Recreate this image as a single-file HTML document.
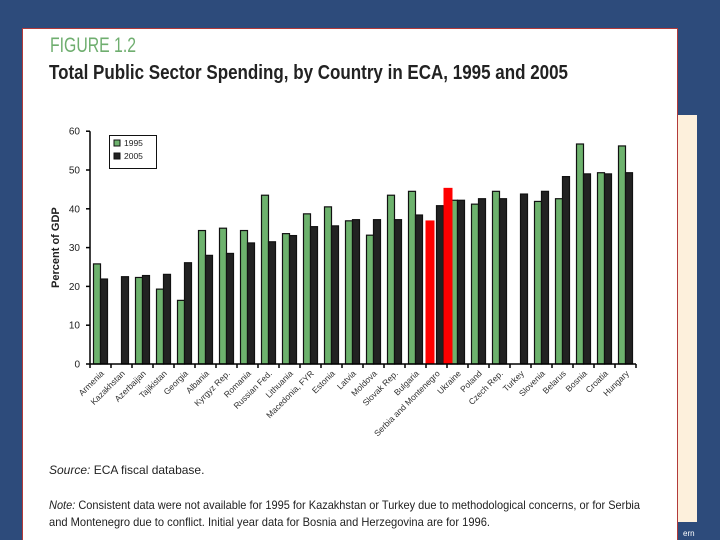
<!DOCTYPE html>
<html><head><meta charset="utf-8"><style>
html,body{margin:0;padding:0;background:#2d4b7b;}
svg{display:block;font-family:"Liberation Sans Narrow","Liberation Sans",sans-serif;}
</style></head><body>
<svg width="720" height="540" viewBox="0 0 720 540">
<rect x="0" y="0" width="720" height="540" fill="#2d4b7b"/>
<rect x="660" y="115" width="37" height="407" fill="#fdf0dc"/>
<text x="683" y="536" font-size="8" fill="#fff">ern</text>
<rect x="22.5" y="28.5" width="655" height="520" fill="#fff" stroke="#b23a3a" stroke-width="1"/>
<text x="50" y="52" font-size="21" fill="#6fae6f" textLength="86" lengthAdjust="spacingAndGlyphs">FIGURE 1.2</text>
<text x="49" y="79" font-size="20" font-weight="bold" fill="#222" textLength="519" lengthAdjust="spacingAndGlyphs">Total Public Sector Spending, by Country in ECA, 1995 and 2005</text>
<g id="chart"></g>
<text x="49" y="474" font-size="12" fill="#222"><tspan font-style="italic">Source:</tspan> ECA fiscal database.</text>
<text x="49" y="509" font-size="12" fill="#222" textLength="591" lengthAdjust="spacingAndGlyphs"><tspan font-style="italic">Note:</tspan>  Consistent data were not available for 1995 for Kazakhstan or Turkey due to methodological concerns, or for Serbia</text>
<text x="49" y="526" font-size="12" fill="#222" textLength="441" lengthAdjust="spacingAndGlyphs">and Montenegro due to conflict.  Initial year data for Bosnia and Herzegovina are for 1996.</text>
</svg>
<script>
const categories=["Armenia","Kazakhstan","Azerbaijan","Tajikistan","Georgia","Albania","Kyrgyz Rep.","Romania","Russian Fed.","Lithuania","Macedonia, FYR","Estonia","Latvia","Moldova","Slovak Rep.","Bulgaria","Serbia and Montenegro","Ukraine","Poland","Czech Rep.","Turkey","Slovenia","Belarus","Bosnia","Croatia","Hungary"];
const values1995=[25.8,null,22.3,19.3,16.4,34.4,35,34.4,43.5,33.6,38.7,40.5,36.9,33.2,43.5,44.5,null,42.2,41.2,44.5,null,41.9,42.6,56.7,49.3,56.2];
const values2005=[21.9,22.5,22.8,23.1,26.1,28,28.5,31.2,31.5,33.1,35.4,35.6,37.2,37.2,37.2,38.4,40.8,42.2,42.6,42.6,43.8,44.5,48.3,49,49,49.3];
const highlightCategory=["Serbia and Montenegro","Serbia and Montenegro"];
const highlightValues=[37,45.4];
const yTicks=[0,10,20,30,40,50,60];
const seriesNames=["1995","2005"];

const NS="http://www.w3.org/2000/svg";
const g=document.getElementById('chart');
const x0=90,step=21,y0=364,yScale=3.88,bw=7;
const yPos=v=>y0-v*yScale;
const xCenter=i=>x0+step*i+step/2;
function el(t,a,p){const e=document.createElementNS(NS,t);for(const k in a)e.setAttribute(k,a[k]);(p||g).appendChild(e);return e;}
// y ticks
yTicks.forEach(t=>{
  const y=yPos(t);
  const tk=el('line',{x1:86,x2:90,y1:y,y2:y,stroke:'#000','stroke-width':1.5});
  
  
  const lb=el('text',{x:80,y:y+3.5,'font-size':10,'text-anchor':'end',fill:'#222'});
  lb.textContent=t;
  
  
});
const yt=el('text',{x:0,y:0,'font-size':11,'font-weight':'bold','text-anchor':'middle',fill:'#222',transform:'translate(59,'+yPos(30)+') rotate(-90)'});
yt.textContent='Percent of GDP';


// bars
categories.forEach((c,i)=>{
  const cx=xCenter(i);
  if(values1995[i]!=null){
    const r=el('rect',{x:cx-bw,y:yPos(values1995[i]),width:bw,height:values1995[i]*yScale,fill:'#6db26d',stroke:'#111','stroke-width':1.2});
    
    
  }
  if(values2005[i]!=null){
    const r=el('rect',{x:cx,y:yPos(values2005[i]),width:bw,height:values2005[i]*yScale,fill:'#222',stroke:'#111','stroke-width':1.2});
    
    
  }
});
highlightValues.forEach((v,k)=>{
  const i=categories.indexOf(highlightCategory[k]);
  const cx=xCenter(i);
  const x=k===0?cx-bw-4:cx+bw;
  const r=el('rect',{x:x,y:yPos(v),width:bw+2,height:v*yScale,fill:'#f00'});
  
  
});
// axes
const ya=el('line',{x1:90,x2:90,y1:yPos(60),y2:y0,stroke:'#000','stroke-width':1.5});


const xa=el('line',{x1:90,x2:x0+step*categories.length,y1:y0,y2:y0,stroke:'#000','stroke-width':1.5});


for(let i=0;i<=categories.length;i++){
  const tk=el('line',{x1:x0+step*i,x2:x0+step*i,y1:y0,y2:y0+4,stroke:'#000','stroke-width':1.5});
  
  
}
categories.forEach((c,i)=>{
  const cx=xCenter(i)+4;
  const t=el('text',{x:0,y:0,'font-size':8.5,'text-anchor':'end',fill:'#333',transform:'translate('+cx+','+(y0+10)+') rotate(-45)'});
  t.textContent=c;
  
  
});
// legend
const lg=el('g',{});


el('rect',{x:109.5,y:135.5,width:47,height:33,fill:'#fff',stroke:'#111','stroke-width':1},lg);
const cols=['#6db26d','#222'];
seriesNames.forEach((s,k)=>{
  const sw=el('rect',{x:114,y:140+k*13,width:6,height:6,fill:cols[k],stroke:'#111','stroke-width':1},lg);
  
  
  const t=el('text',{x:124,y:146+k*13,'font-size':8.5,fill:'#222'},lg);
  t.textContent=s;
  
  
});
</script>
</body></html>
